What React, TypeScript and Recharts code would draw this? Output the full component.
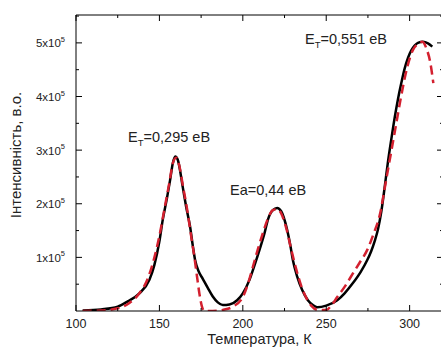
import React from "react";
import { LineChart, Line, XAxis, YAxis, ReferenceDot } from "recharts";

// Experimental TL curve (black solid)
const expT = [104, 115, 125, 131, 138, 144, 147, 150, 152, 154.5, 156.4, 158, 159.5, 161, 164, 166, 168.4, 170, 171.4, 173.5, 176, 179, 182, 185, 188, 192, 196.6, 200, 204, 207, 210, 213, 215, 218, 220.6, 223, 226.6, 228.5, 230, 232.5, 235.6, 239, 242, 244.6, 250, 256.6, 261, 266, 270.5, 274.6, 277, 279, 281, 283, 285, 287, 289, 291, 293, 295, 297, 299, 301, 303, 305, 308, 311, 313.6];
const expI = [1000, 3000, 8000, 18000, 33000, 58000, 86000, 130000, 170000, 210000, 244000, 275000, 288000, 282000, 231000, 195000, 157000, 122000, 95000, 74000, 60000, 43000, 27000, 16000, 11000, 12000, 20000, 33000, 58000, 85000, 114000, 145000, 170000, 188000, 192000, 186000, 151000, 122000, 95000, 65000, 39000, 20000, 11000, 7000, 10000, 20000, 33000, 52000, 72000, 95000, 112000, 130000, 152000, 185000, 230000, 278000, 320000, 360000, 395000, 425000, 452000, 472000, 486000, 495000, 500000, 502000, 499000, 493000];

// Fitted curve (red dashed)
const fitT = [104, 115, 125, 132, 138, 143, 147, 150, 153, 156, 158, 160, 162, 164, 166.6, 169, 171, 172.6, 174, 175.6, 177, 182, 188, 194, 200, 203, 206, 209, 212, 215, 218, 220.5, 223, 226, 229, 232, 235, 238, 241, 245, 250, 253, 256.6, 261, 266, 270, 274.6, 278.5, 282.4, 285, 287.5, 290, 292, 294.4, 296.5, 298.6, 302, 305, 307.6, 310, 312.4, 314.2];
const fitI = [0, 1000, 5000, 15000, 33000, 60000, 100000, 140000, 190000, 240000, 275000, 286000, 270000, 235000, 190000, 140000, 100000, 63000, 32000, 7000, 0, 0, 2000, 8000, 26000, 50000, 82000, 115000, 145000, 172000, 188000, 190000, 182000, 155000, 115000, 78000, 47000, 25000, 10000, 2000, 2000, 10000, 26000, 45000, 70000, 90000, 114000, 145000, 183000, 228000, 272000, 315000, 350000, 392000, 426000, 455000, 487000, 498000, 502000, 490000, 463000, 425000];

const xTicks = [100, 125, 150, 175, 200, 225, 250, 275, 300];
const xMajor = [100, 150, 200, 250, 300];
const yTicks = [50000, 100000, 150000, 200000, 250000, 300000, 350000, 400000, 450000, 500000, 550000];

const labels = [
  { T: 131.2, I: 315000, main: "E", sub: "T", rest: "=0,295 eB" },
  { T: 192.3, I: 216000, main: "Ea=0,44 eB", sub: "", rest: "" },
  { T: 237.3, I: 498000, main: "E", sub: "T", rest: "=0,551 eB" },
];

const expData = expT.map((T, i) => ({ T, I: expI[i] }));
const fitData = fitT.map((T, i) => ({ T, I: fitI[i] }));

const FONT = "'Liberation Sans', Arial, sans-serif";
const TXT = "#222";

const BottomTick = (p: any) => {
  const { x, y, payload } = p;
  const major = xMajor.includes(payload.value);
  return (
    <g>
      <line x1={x} y1={y} x2={x} y2={y - (major ? 6 : 3)} stroke="#000" strokeWidth={1} />
      {major && (
        <text x={x} y={y + 17} textAnchor="middle" fontSize={12.5} fontFamily={FONT} fill={TXT}>
          {payload.value}
        </text>
      )}
    </g>
  );
};

const TopTick = (p: any) => {
  const { x, y, payload } = p;
  const major = xMajor.includes(payload.value);
  return <line x1={x} y1={y} x2={x} y2={y + (major ? 6 : 3)} stroke="#000" strokeWidth={1} />;
};

const LeftTick = (p: any) => {
  const { x, y, payload } = p;
  const major = payload.value % 100000 === 0;
  return (
    <g>
      <line x1={x} y1={y} x2={x + (major ? 6 : 3)} y2={y} stroke="#000" strokeWidth={1} />
      {major && (
        <text x={x - 11} y={y + 4.5} textAnchor="end" fontSize={11.5} fontFamily={FONT} fill={TXT}>
          {payload.value / 100000 + "x10"}
          <tspan fontSize={7.5} dy={-5.5}>5</tspan>
        </text>
      )}
    </g>
  );
};

const RightTick = (p: any) => {
  const { x, y, payload } = p;
  const major = payload.value % 100000 === 0;
  return <line x1={x} y1={y} x2={x - (major ? 6 : 3)} y2={y} stroke="#000" strokeWidth={1} />;
};

const annot = (l: any) => (props: any) => {
  const vb = props.viewBox || {};
  const x = vb.cx !== undefined ? vb.cx : vb.x;
  const y = vb.cy !== undefined ? vb.cy : vb.y;
  return (
    <text x={x} y={y} fontSize={14.5} fontFamily={FONT} fill={TXT}>
      {l.main}
      {l.sub && (
        <tspan fontSize={9.5} dy={4}>
          {l.sub}
        </tspan>
      )}
      {l.rest && <tspan dy={l.sub ? -4 : 0}>{l.rest}</tspan>}
    </text>
  );
};

export default function App() {
  return (
    <div style={{ position: "absolute", left: 0, top: 0, width: 441, height: 354, overflow: "hidden", background: "#fff" }}>
      <LineChart width={445} height={354} margin={{ top: 0, right: 0, bottom: 0, left: 0 }}>
        <XAxis
          xAxisId="b"
          dataKey="T"
          type="number"
          domain={[100, 320]}
          ticks={xTicks}
          orientation="bottom"
          height={43}
          tickSize={0}
          tickMargin={0}
          tickLine={false}
          axisLine={{ stroke: "#000", strokeWidth: 1 }}
          tick={<BottomTick />}
          interval={0}
          allowDataOverflow
          label={{
            content: (props: any) => {
              const vb = props.viewBox;
              return (
                <text x={vb.x + vb.width / 2} y={vb.y + 33} textAnchor="middle" fontSize={14.5} fontFamily={FONT} fill={TXT}>
                  Температура, К
                </text>
              );
            },
          }}
        />
        <XAxis
          xAxisId="t"
          dataKey="T"
          type="number"
          domain={[100, 320]}
          ticks={xTicks}
          orientation="top"
          height={15}
          tickSize={0}
          tickMargin={0}
          tickLine={false}
          axisLine={{ stroke: "#000", strokeWidth: 1 }}
          tick={<TopTick />}
          interval={0}
          allowDataOverflow
        />
        <YAxis
          yAxisId="l"
          type="number"
          domain={[0, 552000]}
          ticks={yTicks}
          orientation="left"
          width={76}
          tickSize={0}
          tickMargin={0}
          tickLine={false}
          axisLine={{ stroke: "#000", strokeWidth: 1 }}
          tick={<LeftTick />}
          interval={0}
          allowDataOverflow
          label={{
            content: (props: any) => {
              const vb = props.viewBox;
              const cx = vb.x + 21;
              const cy = vb.y + vb.height / 2 - 8;
              return (
                <text x={cx} y={cy} textAnchor="middle" fontSize={15} fontFamily={FONT} fill={TXT} transform={`rotate(-90 ${cx} ${cy})`}>
                  Інтенсивність, в.о.
                </text>
              );
            },
          }}
        />
        <YAxis
          yAxisId="r"
          type="number"
          domain={[0, 552000]}
          ticks={yTicks}
          orientation="right"
          width={2}
          tickSize={0}
          tickMargin={0}
          tickLine={false}
          axisLine={{ stroke: "#000", strokeWidth: 1 }}
          tick={<RightTick />}
          interval={0}
          allowDataOverflow
        />
        <Line
          xAxisId="b"
          yAxisId="l"
          data={expData}
          dataKey="I"
          type="monotone"
          stroke="#000"
          strokeWidth={2.5}
          dot={false}
          isAnimationActive={false}
        />
        <Line
          xAxisId="b"
          yAxisId="l"
          data={fitData}
          dataKey="I"
          type="monotone"
          stroke="#d3202f"
          strokeWidth={2.5}
          strokeDasharray="9 5"
          dot={false}
          isAnimationActive={false}
        />
        {labels.map((l, i) => (
          <ReferenceDot
            key={i}
            xAxisId="b"
            yAxisId="l"
            x={l.T}
            y={l.I}
            r={0}
            fill="none"
            stroke="none"
            ifOverflow="visible"
            label={{ content: annot(l) }}
          />
        ))}
      </LineChart>
    </div>
  );
}
